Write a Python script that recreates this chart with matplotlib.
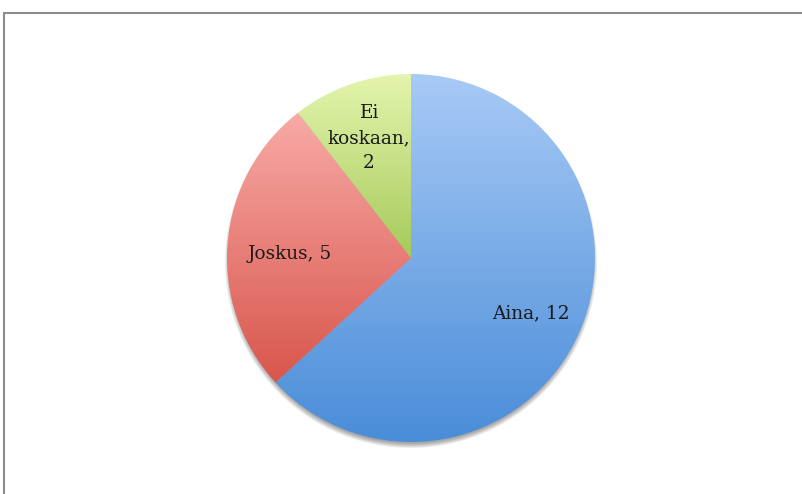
import matplotlib
matplotlib.use("Agg")
import matplotlib.pyplot as plt
import numpy as np
from matplotlib.colors import LinearSegmentedColormap
from matplotlib.patches import Rectangle, Circle

# data
categories = ["Aina", "Joskus", "Ei koskaan"]
values = [12, 5, 2]
labels = ["Aina, 12", "Joskus, 5", "Ei\nkoskaan,\n2"]

# gradient colours per slice (bottom, top)
grad_colors = [("#4a8dd8", "#a8caf6"),
               ("#d8564c", "#f8aaa6"),
               ("#a6ca5a", "#e4f5ae")]

W, H = 803, 494
cx, cy, R = 411, 258, 184   # pie centre / radius in pixels

# small label nudges in pixels (right, down)
nudges = [(2, 4), (7, 7), (0, 2)]

fig = plt.figure(figsize=(W / 100, H / 100), dpi=100)
ax = fig.add_axes([0, 0, 1, 1])
ax.set_axis_off()

# soft shadow under the pie, offset downwards
for k in range(10):
    ax.add_patch(Circle((0, -0.022), 0.985 + 0.003 * k, color="black",
                        alpha=0.04, lw=0, zorder=0))

wedges, texts = ax.pie(values, startangle=90, counterclock=False,
                       labels=labels, labeldistance=0.7,
                       wedgeprops=dict(linewidth=0),
                       textprops=dict(family="DejaVu Serif", fontsize=13.3,
                                      color="#1a1a1a"))

grad = np.linspace(0, 1, 256).reshape(-1, 1)
for w, (c0, c1) in zip(wedges, grad_colors):
    w.set_facecolor("none")
    bb = w.get_path().get_extents()
    cmap = LinearSegmentedColormap.from_list("g", [c0, c1])
    im = ax.imshow(grad, cmap=cmap, origin="lower", aspect="auto",
                   extent=[bb.x0, bb.x1, bb.y0, bb.y1], zorder=1,
                   interpolation="bilinear")
    im.set_clip_path(w)

for t, (dx, dy) in zip(texts, nudges):
    x, y = t.get_position()
    t.set_position((x + dx / R, y - dy / R))
    t.set_horizontalalignment("center")
    t.set_verticalalignment("center")
    t.set_zorder(3)
    t.set_linespacing(1.5)

ax.set_xlim(-cx / R, (W - cx) / R)
ax.set_ylim(-(H - cy) / R, cy / R)
ax.set_aspect("auto")

# outer chart frame (runs off the right and bottom edge)
fig.patches.append(Rectangle((4.5 / W, -0.1), 1.2, (H - 13.5) / H + 0.1,
                             transform=fig.transFigure, fill=False,
                             edgecolor="#8c8c8c", linewidth=1.5))

fig.savefig("out.png", dpi=100)
